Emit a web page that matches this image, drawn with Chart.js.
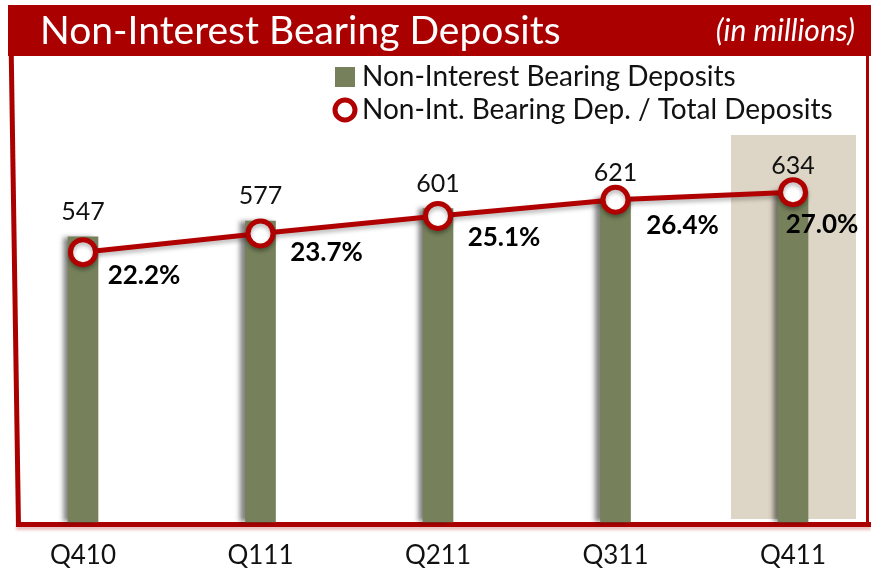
<!DOCTYPE html>
<html>
<head>
<meta charset="utf-8">
<script src="https://cdn.jsdelivr.net/npm/chart.js@4.4.1/dist/chart.umd.min.js"></script>
<style>
html,body{margin:0;padding:0;background:#fff;overflow:hidden;}
#wrap{width:871px;height:569px;position:relative;}
</style>
</head>
<body>
<div id="wrap"><canvas id="c" width="871" height="569"></canvas></div>
<script>
// ---- data ----
const categories = ['Q410', 'Q111', 'Q211', 'Q311', 'Q411'];
const depositValues = [547, 577, 601, 621, 634];
const ratioValues = [22.2, 23.7, 25.1, 26.4, 27.0];
const ratioLabels = ['22.2%', '23.7%', '25.1%', '26.4%', '27.0%'];
const barSeriesName = 'Non-Interest Bearing Deposits';
const lineSeriesName = 'Non-Int. Bearing Dep. / Total Deposits';
const titleText = 'Non-Interest Bearing Deposits';
const unitText = '(in millions)';

// ---- styles / layout ----
const RED = '#AA0000';
const LINE_RED = '#B00000';
const BAR = '#76805A';
const BEIGE = '#DDD5C5';
const FONT = 'Lato, "Open Sans", sans-serif';
const target = {left: 83, right: 793, top: 131, bottom: 522};
const pctOffsets = [[61, 23], [66, 19], [66, 22], [67, 26], [29, 32]];
const LEGEND_FONT = 28;
const LEGEND_PAD = 33 - LEGEND_FONT;
const LEGEND_BOX = 12;
const ICON_SHIFT = 3;

function legendIcon(kind) {
  const c = document.createElement('canvas');
  const x = c.getContext('2d');
  if (kind === 'rect') {
    c.width = 2 * (10 + ICON_SHIFT); c.height = 20;
    x.fillStyle = BAR; x.fillRect(c.width / 2 + ICON_SHIFT - 10, 0, 20, 20);
  } else {
    c.width = 2 * (13 + ICON_SHIFT); c.height = 26;
    x.beginPath(); x.arc(c.width / 2 + ICON_SHIFT, 13, 10, 0, Math.PI * 2);
    x.fillStyle = '#fff'; x.fill();
    x.lineWidth = 5; x.strokeStyle = LINE_RED; x.stroke();
  }
  return c;
}

const framePlugin = {
  id: 'frame',
  beforeDraw(chart) {
    const ctx = chart.ctx;
    const ca = chart.chartArea;
    const xs = chart.scales.x;
    ctx.save();
    ctx.fillStyle = '#fff';
    ctx.fillRect(0, 0, chart.width, chart.height);
    // highlight behind last category
    const hx = xs.getPixelForValue(categories.length - 1);
    ctx.fillStyle = BEIGE;
    ctx.fillRect(hx - 62, ca.top + 4, 125, ca.bottom - ca.top - 7);
    // banner
    ctx.fillStyle = RED;
    ctx.fillRect(8, 5, chart.width - 8, 51);
    // frame lines
    ctx.strokeStyle = RED;
    ctx.lineWidth = 5;
    ctx.beginPath();
    ctx.moveTo(10.5, 5);
    ctx.lineTo(18.5, 527);
    ctx.stroke();
    ctx.shadowColor = 'rgba(170,0,0,0.25)';
    ctx.shadowBlur = 3;
    ctx.shadowOffsetY = 3;
    ctx.beginPath();
    ctx.moveTo(16, ca.bottom + 2.5);
    ctx.lineTo(chart.width, ca.bottom + 2.5);
    ctx.stroke();
    ctx.shadowColor = 'transparent';
    ctx.lineWidth = 3;
    ctx.beginPath();
    ctx.moveTo(867.5, 55);
    ctx.lineTo(867.5, ca.bottom);
    ctx.stroke();
    ctx.restore();
  },
  afterUpdate(chart) {
    const t = chart.titleBlock;
    if (t) {
      const lh = Chart.helpers.toFont(t.options.font).lineHeight;
      t.left = 40; t.right = chart.width; t.top = 31 - lh / 2; t.bottom = t.top + lh;
    }
    chart.boxes.forEach(b => {
      if (b !== t && b.options && b.options.text === unitText) {
        const lh = Chart.helpers.toFont(b.options.font).lineHeight;
        b.left = 400; b.right = 855; b.top = 31 - lh / 2; b.bottom = b.top + lh;
      }
    });
    const lg = chart.legend;
    if (lg) {
      const h = lg.bottom - lg.top;
      lg.left = 345 - LEGEND_BOX / 2 - ICON_SHIFT - LEGEND_PAD;
      lg.top = 77 - LEGEND_FONT / 2 - LEGEND_PAD;
      lg.bottom = lg.top + Math.max(h, 200);
      lg.right = lg.left + 600;
    }
  },
  beforeDatasetDraw(chart, args) {
    const ctx = chart.ctx;
    ctx.save();
    if (args.index === 0) {
      ctx.shadowColor = 'rgba(0,0,0,0.5)';
      ctx.shadowBlur = 5;
      ctx.shadowOffsetX = -5;
      ctx.shadowOffsetY = 0;
    } else {
      ctx.shadowColor = 'rgba(0,0,0,0.28)';
      ctx.shadowBlur = 4;
      ctx.shadowOffsetX = 0;
      ctx.shadowOffsetY = 3;
    }
  },
  afterDatasetDraw(chart) {
    chart.ctx.restore();
  },
  afterDatasetsDraw(chart) {
    const ctx = chart.ctx;
    ctx.save();
    const bars = chart.getDatasetMeta(0).data;
    ctx.fillStyle = '#111';
    ctx.font = '25px ' + FONT;
    ctx.textAlign = 'center';
    ctx.textBaseline = 'alphabetic';
    bars.forEach((el, i) => {
      ctx.fillText(String(chart.data.datasets[0].data[i]), el.x, el.y - 17);
    });
    const pts = chart.getDatasetMeta(1).data;
    ctx.fillStyle = '#000';
    ctx.font = 'bold 26px ' + FONT;
    ctx.textBaseline = 'middle';
    pts.forEach((el, i) => {
      const o = pctOffsets[i];
      ctx.fillText(ratioLabels[i], el.x + o[0], el.y + o[1]);
    });
    ctx.restore();
  }
};

const pad = {left: 83, right: 78, top: 60, bottom: 10};

const config = {
  data: {
    labels: categories,
    datasets: [
      {
        type: 'bar',
        label: barSeriesName,
        data: depositValues,
        yAxisID: 'y',
        backgroundColor: BAR,
        borderWidth: 0,
        barThickness: 30,
        order: 1,
        clip: false
      },
      {
        type: 'line',
        label: lineSeriesName,
        data: ratioValues,
        yAxisID: 'y1',
        borderColor: LINE_RED,
        borderWidth: 5,
        pointRadius: 12.5,
        pointBorderWidth: 5,
        pointBackgroundColor: '#fff',
        pointBorderColor: LINE_RED,
        tension: 0,
        order: 0,
        clip: false
      }
    ]
  },
  options: {
    responsive: false,
    animation: false,
    events: [],
    layout: {padding: Object.assign({}, pad)},
    scales: {
      x: {
        type: 'category',
        offset: false,
        grid: {display: false, drawTicks: false},
        border: {display: false},
        ticks: {
          color: '#111',
          font: {family: FONT, size: 26},
          padding: 18,
          maxRotation: 0,
          autoSkip: false
        }
      },
      y: {display: false, min: 0, max: 750},
      y1: {display: false, position: 'right', min: 0.6, max: 31.9}
    },
    plugins: {
      tooltip: {enabled: false},
      title: {
        display: true,
        text: titleText,
        color: '#fff',
        align: 'start',
        padding: 0,
        font: {family: FONT, size: 39, weight: 'normal'}
      },
      subtitle: {
        display: true,
        text: unitText,
        color: '#fff',
        align: 'end',
        padding: 0,
        font: {family: FONT, size: 30, style: 'italic', weight: 'normal'}
      },
      legend: {
        display: true,
        position: 'chartArea',
        align: 'start',
        labels: {
          usePointStyle: true,
          boxWidth: LEGEND_BOX,
          padding: LEGEND_PAD,
          color: '#111',
          font: {family: FONT, size: LEGEND_FONT},
          generateLabels(chart) {
            return chart.data.datasets.map((ds, i) => ({
              text: ds.label,
              datasetIndex: i,
              pointStyle: legendIcon(i === 0 ? 'rect' : 'ring'),
              fillStyle: i === 0 ? BAR : '#fff',
              strokeStyle: i === 0 ? BAR : LINE_RED,
              lineWidth: 0,
              hidden: false,
              fontColor: '#111'
            }));
          }
        }
      }
    }
  },
  plugins: [framePlugin]
};

const chart = new Chart(document.getElementById('c'), config);
const ca = chart.chartArea;
chart.options.layout.padding = {
  left: pad.left + (target.left - ca.left),
  right: pad.right + (ca.right - target.right),
  top: pad.top + (target.top - ca.top),
  bottom: pad.bottom + (ca.bottom - target.bottom)
};
chart.update();
</script>
</body>
</html>
